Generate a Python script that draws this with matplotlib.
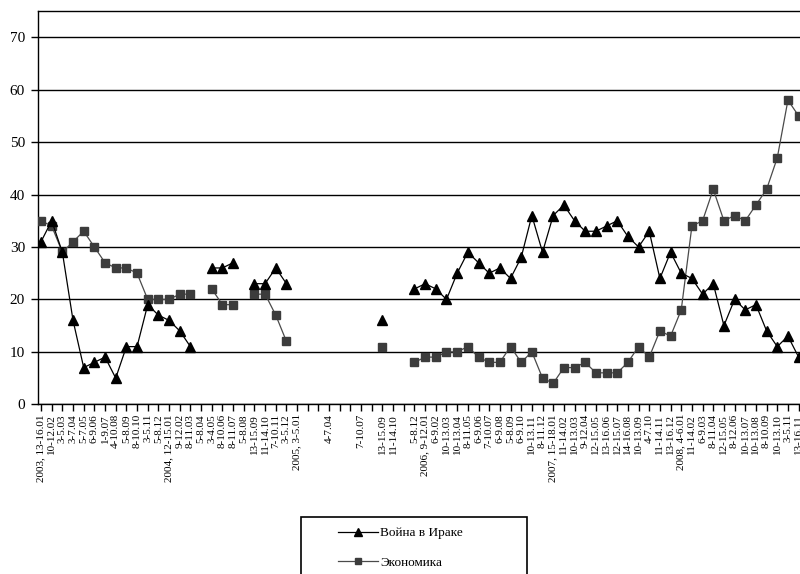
import numpy as np
import matplotlib
matplotlib.use("Agg")
import matplotlib.pyplot as plt
from matplotlib.lines import Line2D
from matplotlib.patches import Rectangle

nan = np.nan

labels = [
    "2003, 13-16.01", "10-12.02", "3-5.03", "3-7.04", "5-7.05", "6-9.06",
    "1-9.07", "4-10.08", "5-8.09", "8-10.10", "3-5.11", "5-8.12",
    "2004, 12-15.01", "9-12.02", "8-11.03", "5-8.04", "3-4.05", "8-10.06",
    "8-11.07", "5-8.08", "13-15.09", "11-14.10", "7-10.11", "3-5.12",
    "2005, 3-5.01", "", "", "4-7.04", "", "", "7-10.07", "",
    "13-15.09", "11-14.10", "", "5-8.12",
    "2006, 9-12.01", "6-9.02", "10-13.03", "10-13.04", "8-11.05", "6-9.06",
    "7-10.07", "6-9.08", "5-8.09", "6-9.10", "10-13.11", "8-11.12",
    "2007, 15-18.01", "11-14.02", "10-13.03", "9-12.04", "12-15.05", "13-16.06",
    "12-15.07", "14-16.08", "10-13.09", "4-7.10", "11-14.11", "13-16.12",
    "2008, 4-6.01", "11-14.02", "6-9.03", "8-11.04", "12-15.05", "8-12.06",
    "10-13.07", "10-13.08", "8-10.09", "10-13.10", "3-5.11", "13-16.11",
]

iraq = [31, 35, 29, 16, 7, 8, 9, 5, 11, 11, 19, 17, 16, 14, 11, nan,
        26, 26, 27, nan, 23, 23, 26, 23,
        nan, nan, nan, nan, nan, nan, nan, nan,
        16, nan, nan,
        22, 23, 22, 20, 25, 29, 27, 25, 26, 24, 28, 36, 29, 36, 38, 35,
        33, 33, 34, 35, 32, 30, 33, 24, 29, 25, 24, 21, 23, 15, 20, 18,
        19, 14, 11, 13, 9]

economy = [35, 34, 29, 31, 33, 30, 27, 26, 26, 25, 20, 20, 20, 21, 21, nan,
           22, 19, 19, nan, 21, 21, 17, 12,
           nan, nan, nan, nan, nan, nan, nan, nan,
           11, nan, nan,
           8, 9, 9, 10, 10, 11, 9, 8, 8, 11, 8, 10, 5, 4,
           7, 7, 8, 6, 6, 6, 8, 11, 9, 14, 13, 18, 34, 35, 41, 35, 36, 35,
           38, 41, 47, 58, 55]

series_names = ["Война в Ираке", "Экономика"]
yticks = [0, 10, 20, 30, 40, 50, 60, 70]

plt.rcParams['font.family'] = ['Liberation Serif', 'DejaVu Serif']

W, H = 800, 574
fig = plt.figure(figsize=(W / 100, H / 100), dpi=100)
left_px, top_px, bottom_px = 37.5, 11.0, 404.3
ax = fig.add_axes([left_px / W, 1 - bottom_px / H, 1 - left_px / W,
                   (bottom_px - top_px) / H])

x = np.arange(len(labels))
ax.plot(x, economy, color='#4a4a4a', lw=0.9, marker='s', markersize=5.2,
        markerfacecolor='#3c3c3c', markeredgecolor='#3c3c3c', zorder=3)
ax.plot(x, iraq, color='black', lw=0.9, marker='^', markersize=6.5,
        markerfacecolor='black', markeredgecolor='black', zorder=4)

ax.set_xlim(-0.33, 71.13)
ax.set_ylim(0, 75)
ax.set_yticks(yticks)
ax.set_yticklabels([str(v) for v in yticks], fontsize=11)
ax.set_xticks(x)
ax.set_xticklabels(labels, rotation=90, fontsize=8)
ax.tick_params(axis='y', direction='out', length=5, width=1, pad=4, colors='black')
ax.tick_params(axis='x', direction='out', length=5, width=1, pad=2, colors='black')
ax.yaxis.grid(True, color='black', lw=1.0)
ax.set_axisbelow(True)
for s in ['left', 'bottom', 'top']:
    ax.spines[s].set_color('black')
    ax.spines[s].set_linewidth(1.0)
ax.spines['right'].set_visible(False)

# legend
handles = [
    Line2D([], [], color='black', lw=0.9, marker='^', markersize=6,
           markerfacecolor='black', markeredgecolor='black'),
    Line2D([], [], color='#4a4a4a', lw=0.9, marker='s', markersize=4,
           markerfacecolor='#3c3c3c', markeredgecolor='#3c3c3c'),
]
fig.legend(handles, series_names, loc='upper left',
           bbox_to_anchor=(338 / W, 1 - 527 / H), frameon=False,
           borderpad=0, borderaxespad=0, fontsize=9.5, handlelength=3.0,
           handletextpad=0.2, labelspacing=1.3)
fig.patches.append(Rectangle((300.5 / W, -0.05), (527 - 300.5) / W,
                             (0.05 + 1 - 517 / H), transform=fig.transFigure,
                             fill=False, edgecolor='black', lw=1.2))

fig.savefig('out.png', dpi=100, facecolor='white')
